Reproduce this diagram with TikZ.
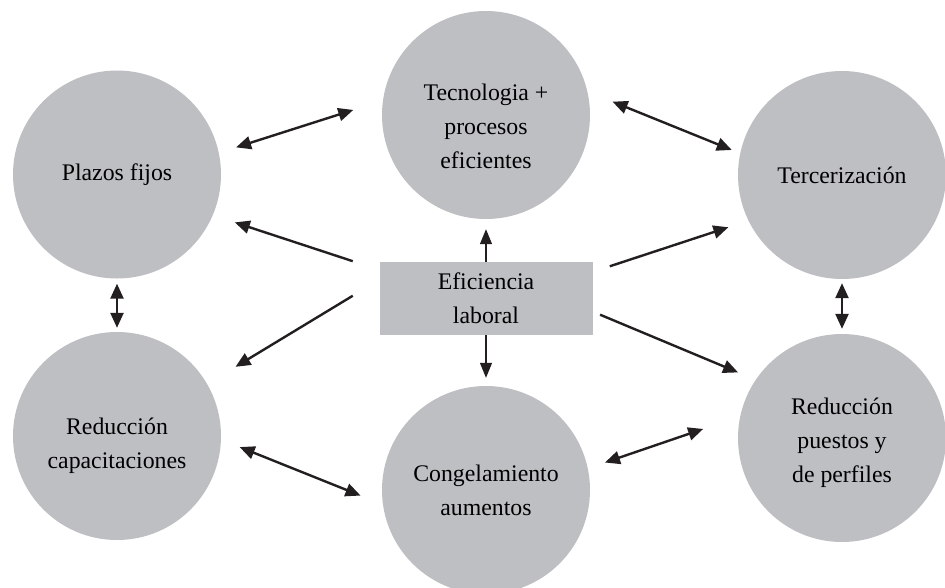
\documentclass[tikz,border=0pt]{standalone}
\usepackage{fontspec}
\setmainfont{Liberation Serif}
\usetikzlibrary{arrows.meta}
\definecolor{bg1}{RGB}{190,191,195}
\definecolor{l1}{RGB}{35,31,32}

\begin{document}
\begin{tikzpicture}[
    x=1pt, y=-1pt,
    font=\fontsize{23.8}{34}\selectfont,
    c/.style={
        circle, minimum size=208pt, inner sep=0pt,
        fill=bg1, align=center
    },
    b/.style={
        minimum width=213pt, minimum height=73pt,
        fill=bg1, align=center
    },
    t/.style={align=center, yshift=-#1},
    a/.style={
        line width=2.4pt, color=l1,
        -{Triangle[length=15pt,width=13pt]}
    },
    d/.style={
        line width=2.4pt, color=l1,
        {Triangle[length=15pt,width=13pt]}-{Triangle[length=15pt,width=13pt]}
    },
    v/.style={
        line width=1.3pt, color=l1,
        -{Triangle[length=15pt,width=12pt]}
    }
]
    \useasboundingbox (0,0) rectangle (945,587);

    \node [c, label={[t=11pt]center:Tecnologia +\\procesos\\eficientes}] (tec) at (486, 115) {};
    \node [c] (plazos)  at (117, 174.5) {Plazos fijos};
    \node [c] (terc)    at (842, 175  ) {Tercerización};
    \node [c, label={[t=10pt]center:Reducción\\capacitaciones}] (capac) at (117, 436) {};
    \node [c] (cong)    at (486, 490  ) {Congelamiento\\aumentos};
    \node [c, label={[t=5pt]center:Reducción\\puestos y\\de perfiles}] (puestos) at (842, 438) {};
    \node [b] (eff)     at (486, 298.5) {Eficiencia\\laboral};

    % desde eficiencia laboral
    \draw (eff.north) edge [v, shorten >=10pt] (tec.south);
    \draw (eff.south) edge [v, shorten >=8pt] (cong.north);
    \draw (eff.165) edge [a, shorten <=28pt, shorten >=23pt] (plazos.-23);
    \draw (eff.170) edge [a, shorten <=31pt, shorten >=33pt] (capac.30);
    \draw (eff.14)  edge [a, shorten <=18pt, shorten >=21pt] (terc.206);
    \draw (eff.-7)  edge [a, shorten <=8pt,  shorten >=19pt] (puestos.146);

    % entre los circulos
    \draw (plazos.12)    edge [d, shorten <=18pt, shorten >=31pt] (tec.172);
    \draw (tec.13)       edge [d, shorten <=27pt, shorten >=9pt]  (terc.168);
    \draw (plazos.south) edge [d, shorten <=5pt,  shorten >=4pt]  (capac.north);
    \draw (terc.south)   edge [d, shorten <=4pt,  shorten >=5pt]  (puestos.north);
    \draw (capac.-2)     edge [d, shorten <=20pt, shorten >=24pt] (cong.188);
    \draw (cong.12)      edge [d, shorten <=18pt, shorten >=39pt] (puestos.168);

\end{tikzpicture}
\end{document}
